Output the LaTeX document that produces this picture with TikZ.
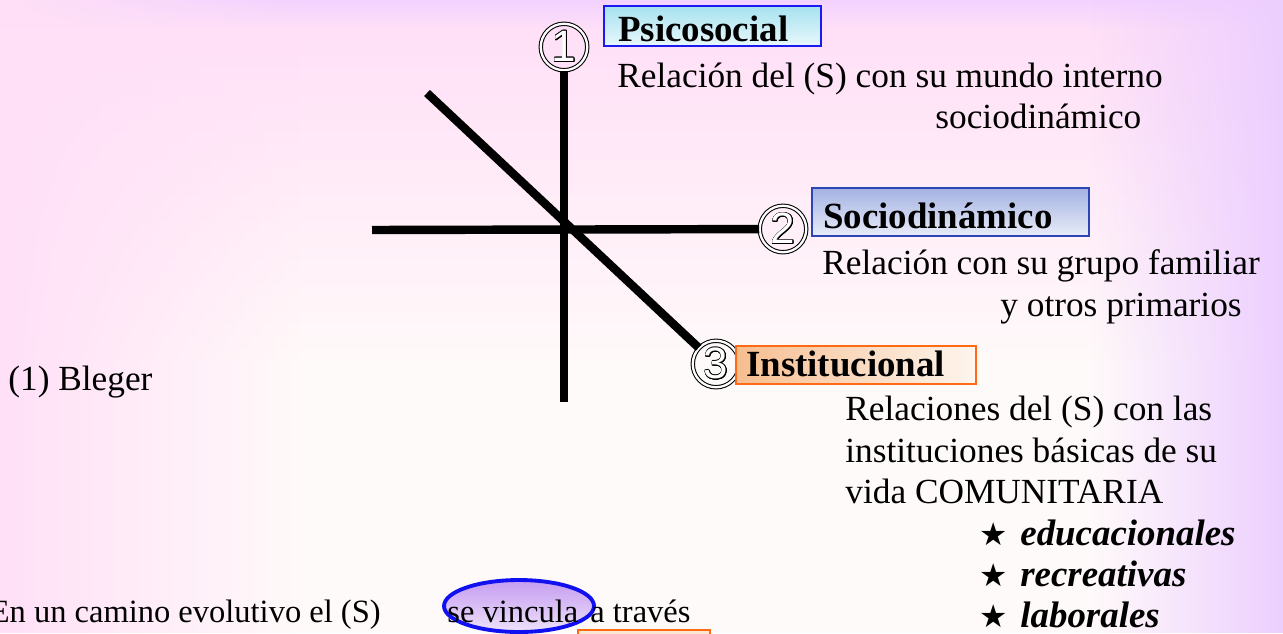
\documentclass[tikz,border=0pt]{standalone}
\usepackage{fontspec}
\setmainfont{Liberation Serif}
\newfontfamily\symfont{DejaVu Sans}
\newfontfamily\numfont{Liberation Sans}
\usepackage{contour}
\contourlength{0.45pt}
\usetikzlibrary{fadings,shapes.geometric}

\definecolor{bgtop}{HTML}{F3D2FF}
\definecolor{bgpink}{HTML}{FFE0F7}
\definecolor{bgright}{HTML}{EDCFFF}
\definecolor{bgbase}{HTML}{FFFAFA}
\definecolor{psiblue}{HTML}{1A1AF0}
\definecolor{psisky}{HTML}{A6E2EF}
\definecolor{socblue}{HTML}{2B45B5}
\definecolor{soclav}{HTML}{A4B2E2}
\definecolor{insorange}{HTML}{FF6A12}
\definecolor{inspeach}{HTML}{F6BE90}
\definecolor{ringblue}{HTML}{1010F0}
\definecolor{ringlilac}{HTML}{C59CF0}

\tikzfading[name=fadedown, top color=transparent!0, bottom color=transparent!100]
\tikzfading[name=faderight, left color=transparent!0, right color=transparent!100]
\tikzfading[name=fadeleft, left color=transparent!100, right color=transparent!0]

\tikzset{
  numring/.style={circle, draw, double, double distance=1.3pt, line width=0.6pt,
    minimum size=0.93cm, inner sep=0pt, font=\numfont\fontsize{25}{25}\selectfont},
  axisline/.style={line width=4.8pt},
  titlebox/.style={draw, line width=1.3pt, anchor=base west, inner ysep=0pt,
    align=left, font=\bfseries\fontsize{21}{24}\selectfont},
  body/.style={anchor=base west, inner sep=0pt, font=\fontsize{20.1}{24}\selectfont},
  lowtext/.style={anchor=base west, inner sep=0pt, font=\fontsize{18.5}{22}\selectfont},
  staritem/.style={anchor=base, inner sep=0pt, font=\symfont\fontsize{18}{18}\selectfont},
  itemtext/.style={anchor=base west, inner sep=0pt,
    font=\bfseries\itshape\fontsize{21}{24}\selectfont}
}

\begin{document}
\begin{tikzpicture}[x=0.02cm, y=-0.02cm]
  \useasboundingbox (0,0) rectangle (1283,633);
  \fill[bgbase] (0,0) rectangle (1283,633);
  \fill[bgpink, path fading=fadedown] (0,30) rectangle (1283,360);
  \fill[top color=bgtop, bottom color=bgpink] (0,0) rectangle (1283,30);
  \fill[bgpink, path fading=faderight] (0,0) rectangle (300,633);
  \fill[bgright, path fading=fadeleft] (1090,0) rectangle (1283,633);

  \foreach \n/\cx/\cy in {1/564/47, 2/783/229, 3/716/364}
    \node[numring] (c\n) at (\cx,\cy) {\contour{black}{\textcolor{white}{\n}}};

  \coordinate (vbot) at (564,402);
  \coordinate (hleft) at (372,230);
  \coordinate (dtop) at (427,93);
  \draw[axisline] (c1) -- (vbot);
  \draw[axisline] (hleft) -- (c2);
  \draw[axisline] (dtop) -- (c3);

  \node[titlebox, draw=psiblue, top color=psisky, bottom color=psisky!25,
    inner xsep=0.28cm, text width=3.78cm, text height=0.7cm, text depth=0.1cm]
    (psico) at (603,41) {Psicosocial};
  \node[titlebox, draw=socblue, top color=soclav, bottom color=soclav!25,
    inner xsep=0.22cm, text width=5.1cm, text height=0.8cm, text depth=0.16cm]
    (socio) at (811,228) {Sociodinámico};
  \node[titlebox, draw=insorange, left color=inspeach, right color=inspeach!15,
    inner xsep=0.2cm, text width=4.4cm, text height=0.6cm, text depth=0.16cm]
    (insti) at (735,376) {Institucional};

  \node[body] (psi1) at (617,87) {Relación del (S) con su mundo interno};
  \node[body] (psi2) at (935,128) {sociodinámico};
  \node[body] (soc1) at (822,274) {Relación con su grupo familiar};
  \node[body] (soc2) at (1000,316) {y otros primarios};
  \node[body] (ins1) at (845,420) {Relaciones del (S) con las};
  \node[body] (ins2) at (845,462) {instituciones básicas de su};
  \node[body] (ins3) at (845,503) {vida COMUNITARIA};

  \foreach \w/\yy [count=\i] in {educacionales/545, recreativas/586, laborales/627}
  {
    \node[staritem] (star\i) at (994,\yy) {★};
    \node[itemtext] (item\i) at (1020,\yy) {\w};
  }

  \node[body] (bleger) at (8,390) {(1) Bleger};

  \node[ellipse, draw=ringblue, line width=2.2pt, top color=ringlilac,
    bottom color=ringlilac!30, minimum width=3cm, minimum height=1.04cm]
    (ring) at (519,606) {};
  \draw[insorange, fill=inspeach!40, line width=1pt] (578,630) rectangle (710,660);
  \node[lowtext, anchor=base east] (camino) at (381,622) {En un camino evolutivo el (S)};
  \node[lowtext] (vincula) at (447,622) {se vincula};
  \node[lowtext] (traves) at (590,622) {a través};
\end{tikzpicture}
\end{document}
